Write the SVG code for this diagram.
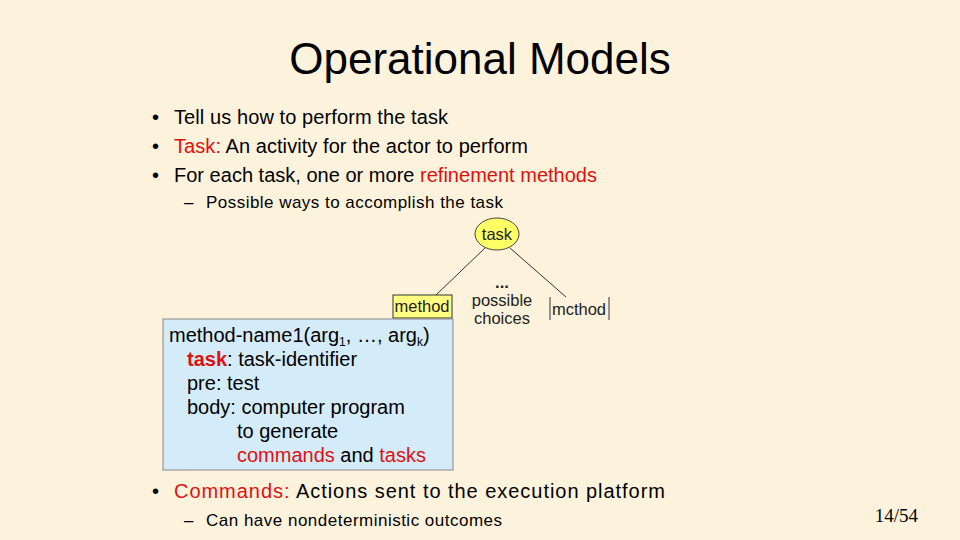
<svg xmlns="http://www.w3.org/2000/svg" width="960" height="540" viewBox="0 0 960 540" xml:space="preserve">
<style>
text{font-family:"Liberation Sans",Arial,sans-serif;fill:#000}
.r{fill:#e01010}
.b{font-size:20px}
.s{font-size:17px}
.m{font-size:20px}
.d{font-size:16.5px;fill:#222}
</style>
<rect width="960" height="540" fill="#fdf3dc"/>
<text x="480" y="74" font-size="44" text-anchor="middle">Operational Models</text>
<g id="bullets">
<text x="152" y="124" class="b">•</text><text x="174" y="124" class="b" textLength="274">Tell us how to perform the task</text>
<text x="152" y="153" class="b">•</text><text x="174" y="153" class="b" textLength="354"><tspan class="r">Task:</tspan> An activity for the actor to perform</text>
<text x="152" y="182" class="b">•</text><text x="174" y="182" class="b" textLength="423">For each task, one or more <tspan class="r">refinement methods</tspan></text>
<text x="184" y="208" class="s">–</text><text x="206" y="208" class="s" textLength="297">Possible ways to accomplish the task</text>
<text x="152" y="498" class="b">•</text><text x="174" y="498" class="b" textLength="491"><tspan class="r">Commands:</tspan> Actions sent to the execution platform</text>
<text x="184" y="526" class="s">–</text><text x="206" y="526" class="s" textLength="296">Can have nondeterministic outcomes</text>
<text x="918" y="522" font-size="19" text-anchor="end" style="font-family:'Liberation Serif',serif">14/54</text>
</g>
<g id="connectors" stroke="#333" stroke-width="1">
<line x1="485" y1="248" x2="436" y2="295"/>
<line x1="510" y1="248" x2="566" y2="297"/>
</g>
<g id="task">
<ellipse cx="497" cy="234" rx="22" ry="16" fill="#ffff66" stroke="#444"/>
<text x="497" y="240" class="d" text-anchor="middle">task</text>
</g>
<g id="choices">
<text x="502" y="288" class="d" text-anchor="middle" font-weight="bold">...</text>
<text x="502" y="306" class="d" text-anchor="middle">possible</text>
<text x="502" y="324" class="d" text-anchor="middle">choices</text>
</g>
<g id="method2">
<line x1="550" y1="297" x2="550" y2="320" stroke="#333"/>
<line x1="609" y1="297" x2="609" y2="320" stroke="#333"/>
<text x="579" y="315" class="d" text-anchor="middle">mcthod</text>
</g>
<g id="method1">
<rect x="393" y="295" width="59" height="23" fill="#ffff80" stroke="#333"/>
<text x="422" y="312" class="d" text-anchor="middle">method</text>
</g>
<g id="methodbox">
<rect x="163" y="319" width="290" height="151" fill="#d4ecfa" stroke="#888"/>
<text x="169" y="342" class="m">method-name1(arg<tspan font-size="12" dy="4">1</tspan><tspan dy="-4">, …, arg</tspan><tspan font-size="12" dy="4">k</tspan><tspan dy="-4">)</tspan></text>
<text x="187" y="366" class="m"><tspan class="r" font-weight="bold">task</tspan>:  task-identifier</text>
<text x="187" y="390" class="m">pre:   test</text>
<text x="187" y="414" class="m">body: computer program</text>
<text x="237" y="438" class="m">to generate</text>
<text x="237" y="462" class="m"><tspan class="r">commands</tspan> and <tspan class="r">tasks</tspan></text>
</g>
</svg>
